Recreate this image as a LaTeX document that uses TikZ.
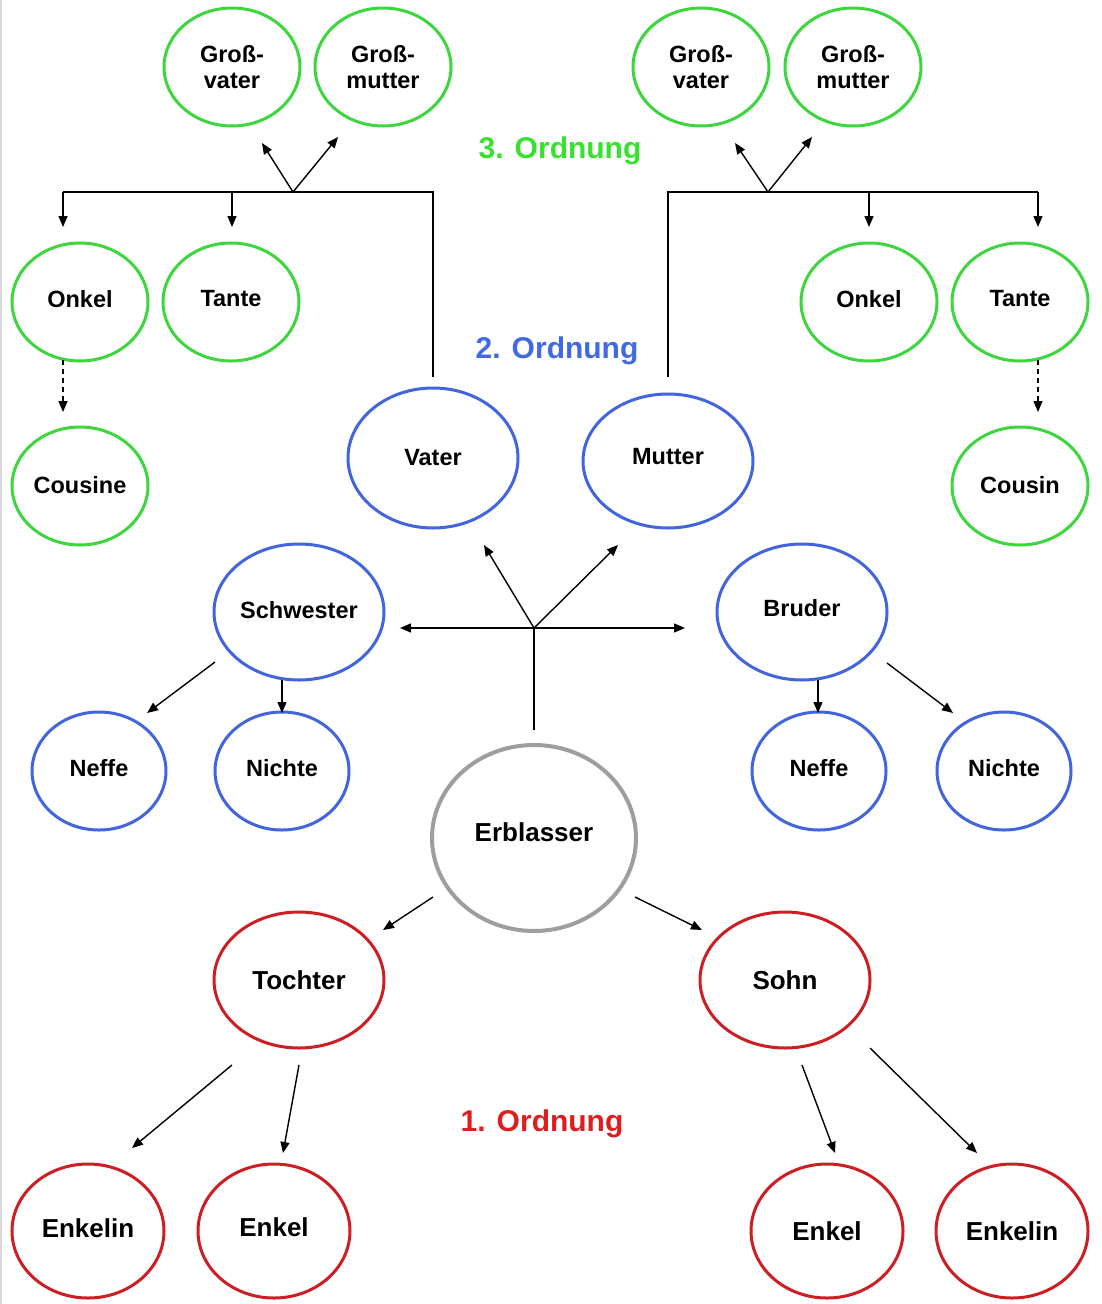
\documentclass[tikz,border=0pt]{standalone}
\usepackage{fontspec}
\setmainfont{Liberation Sans}
\usetikzlibrary{arrows.meta,shapes.geometric}
\definecolor{cgreen}{RGB}{62,214,62}
\definecolor{cblue}{RGB}{66,100,220}
\definecolor{cred}{RGB}{205,30,35}
\definecolor{cgray}{RGB}{158,158,158}
\definecolor{tgreen}{RGB}{55,225,45}
\definecolor{tblue}{RGB}{65,105,225}
\definecolor{tred}{RGB}{222,30,30}
\begin{document}
\begin{tikzpicture}[x=1pt,y=-1pt,
  oval/.style={ellipse, line width=3pt, fill=white, inner sep=0pt, align=center,
    font=\bfseries\fontsize{23.5}{26}\selectfont},
  gnode/.style={oval, draw=cgreen, minimum width=136pt, minimum height=118pt},
  bnode/.style={oval, draw=cblue, minimum width=170pt, minimum height=136pt},
  bsmall/.style={oval, draw=cblue, minimum width=134pt, minimum height=118pt},
  rnode/.style={oval, draw=cred, minimum width=170pt, minimum height=136pt,
    font=\bfseries\fontsize{26}{28}\selectfont},
  rsmall/.style={oval, draw=cred, minimum width=152pt, minimum height=134pt,
    font=\bfseries\fontsize{26}{28}\selectfont},
  enode/.style={oval, draw=cgray, line width=4pt, minimum width=204pt, minimum height=186pt,
    font=\bfseries\fontsize{26}{28}\selectfont},
  lift/.style={text depth=#1},
  ordlabel/.style={font=\bfseries\fontsize{30}{34}\selectfont, inner sep=0pt},
  conn/.style={line width=1.4pt, black},
  arr/.style={conn, -{Triangle[length=11pt,width=9pt]}},
  darr/.style={arr, dash pattern=on 5pt off 4pt}
]
\useasboundingbox (0,0) rectangle (1101,1304);
\fill[white] (0,0) rectangle (1101,1304);
\draw[black!15, line width=2pt] (1,0) -- (1,1304);

% ---- 3. Ordnung (green)
\node[gnode] (gv1) at (232,67) {Groß-\\vater};
\node[gnode] (gm1) at (383,67) {Groß-\\mutter};
\node[gnode] (gv2) at (701,67) {Groß-\\vater};
\node[gnode] (gm2) at (853,67) {Groß-\\mutter};
\node[gnode, lift=7pt] (on1) at (80,302) {Onkel};
\node[gnode, lift=7pt] (ta1) at (231,302) {Tante};
\node[gnode, lift=3pt] (cou1) at (80,486) {Cousine};
\node[gnode, lift=7pt] (on2) at (869,302) {Onkel};
\node[gnode, lift=7pt] (ta2) at (1020,302) {Tante};
\node[gnode, lift=3pt] (cou2) at (1020,486) {Cousin};

% ---- 2. Ordnung (blue)
\node[bnode, minimum height=140pt, lift=2pt] (vat) at (433,458) {Vater};
\node[bnode, minimum height=134pt, lift=10pt] (mut) at (668,461) {Mutter};
\node[bnode, lift=4pt] (sch) at (299,612) {Schwester};
\node[bnode, lift=8pt] (bru) at (802,612) {Bruder};
\node[bsmall, lift=6pt] (nef1) at (99,771) {Neffe};
\node[bsmall, lift=6pt] (nic1) at (282,771) {Nichte};
\node[bsmall, lift=6pt] (nef2) at (819,771) {Neffe};
\node[bsmall, lift=6pt] (nic2) at (1004,771) {Nichte};

% ---- Erblasser
\node[enode, lift=12pt] (erb) at (534,838) {Erblasser};

% ---- 1. Ordnung (red)
\node[rnode] (toch) at (299,980) {Tochter};
\node[rnode] (sohn) at (785,980) {Sohn};
\node[rsmall, lift=6pt] (enk1) at (88,1231) {Enkelin};
\node[rsmall, lift=8pt] (enk2) at (274,1231) {Enkel};
\node[rsmall] (enk3) at (827,1231) {Enkel};
\node[rsmall] (enk4) at (1012,1231) {Enkelin};

% ---- labels
\node[ordlabel, text=tgreen] (l3) at (560,151) {3. Ordnung};
\node[ordlabel, text=tblue] (l2) at (557,351) {2. Ordnung};
\node[ordlabel, text=tred] (l1) at (542,1124) {1. Ordnung};

% ---- connector coordinates
\coordinate (jl) at (293,192);
\coordinate (jlL) at (63,192);
\coordinate (jlT) at (232,192);
\coordinate (jlR) at (433,192);
\coordinate (vatTop) at (433,377);
\coordinate (gv1t) at (262,143);
\coordinate (gm1t) at (338,137);
\coordinate (on1t) at (63,227);
\coordinate (ta1t) at (232,227);

\coordinate (jr) at (768,192);
\coordinate (jrL) at (668,192);
\coordinate (jrM) at (869,192);
\coordinate (jrR) at (1038,192);
\coordinate (mutTop) at (668,377);
\coordinate (gv2t) at (735,143);
\coordinate (gm2t) at (812,137);
\coordinate (on2t) at (869,227);
\coordinate (ta2t) at (1038,227);

\coordinate (on1b) at (63,360);
\coordinate (cou1t) at (63,412);
\coordinate (ta2b) at (1038,360);
\coordinate (cou2t) at (1038,412);

\coordinate (jc) at (534,628);
\coordinate (erbt) at (534,730);
\coordinate (scht) at (400,628);
\coordinate (brut) at (685,628);
\coordinate (vatt) at (484,545);
\coordinate (mutt) at (618,545);

\coordinate (s1) at (215,662);
\coordinate (nef1t) at (147,713);
\coordinate (s2) at (282,680);
\coordinate (nic1t) at (282,713);
\coordinate (b1) at (818,680);
\coordinate (nef2t) at (818,713);
\coordinate (b2) at (887,663);
\coordinate (nic2t) at (953,713);

\coordinate (e1) at (433,897);
\coordinate (tocht) at (383,930);
\coordinate (e2) at (635,897);
\coordinate (sohnt) at (702,930);

\coordinate (t1) at (232,1065);
\coordinate (enk1t) at (132,1148);
\coordinate (t2) at (299,1065);
\coordinate (enk2t) at (283,1153);
\coordinate (so1) at (802,1065);
\coordinate (enk3t) at (835,1153);
\coordinate (so2) at (870,1048);
\coordinate (enk4t) at (977,1153);

% ---- connectors: father's side
\draw[conn] (vatTop) -- (jlR) -- (jlL);
\draw[arr] (jlL) -- (on1t);
\draw[arr] (jlT) -- (ta1t);
\draw[arr] (jl) -- (gv1t);
\draw[arr] (jl) -- (gm1t);
\draw[darr] (on1b) -- (cou1t);

% ---- connectors: mother's side
\draw[conn] (mutTop) -- (jrL) -- (jrR);
\draw[arr] (jrM) -- (on2t);
\draw[arr] (jrR) -- (ta2t);
\draw[arr] (jr) -- (gv2t);
\draw[arr] (jr) -- (gm2t);
\draw[darr] (ta2b) -- (cou2t);

% ---- connectors: centre
\draw[conn] (erbt) -- (jc);
\draw[arr] (jc) -- (scht);
\draw[arr] (jc) -- (brut);
\draw[arr] (jc) -- (vatt);
\draw[arr] (jc) -- (mutt);

% ---- siblings' children
\draw[arr] (s1) -- (nef1t);
\draw[arr] (s2) -- (nic1t);
\draw[arr] (b1) -- (nef2t);
\draw[arr] (b2) -- (nic2t);

% ---- descendants
\draw[arr] (e1) -- (tocht);
\draw[arr] (e2) -- (sohnt);
\draw[arr] (t1) -- (enk1t);
\draw[arr] (t2) -- (enk2t);
\draw[arr] (so1) -- (enk3t);
\draw[arr] (so2) -- (enk4t);
\end{tikzpicture}
\end{document}
